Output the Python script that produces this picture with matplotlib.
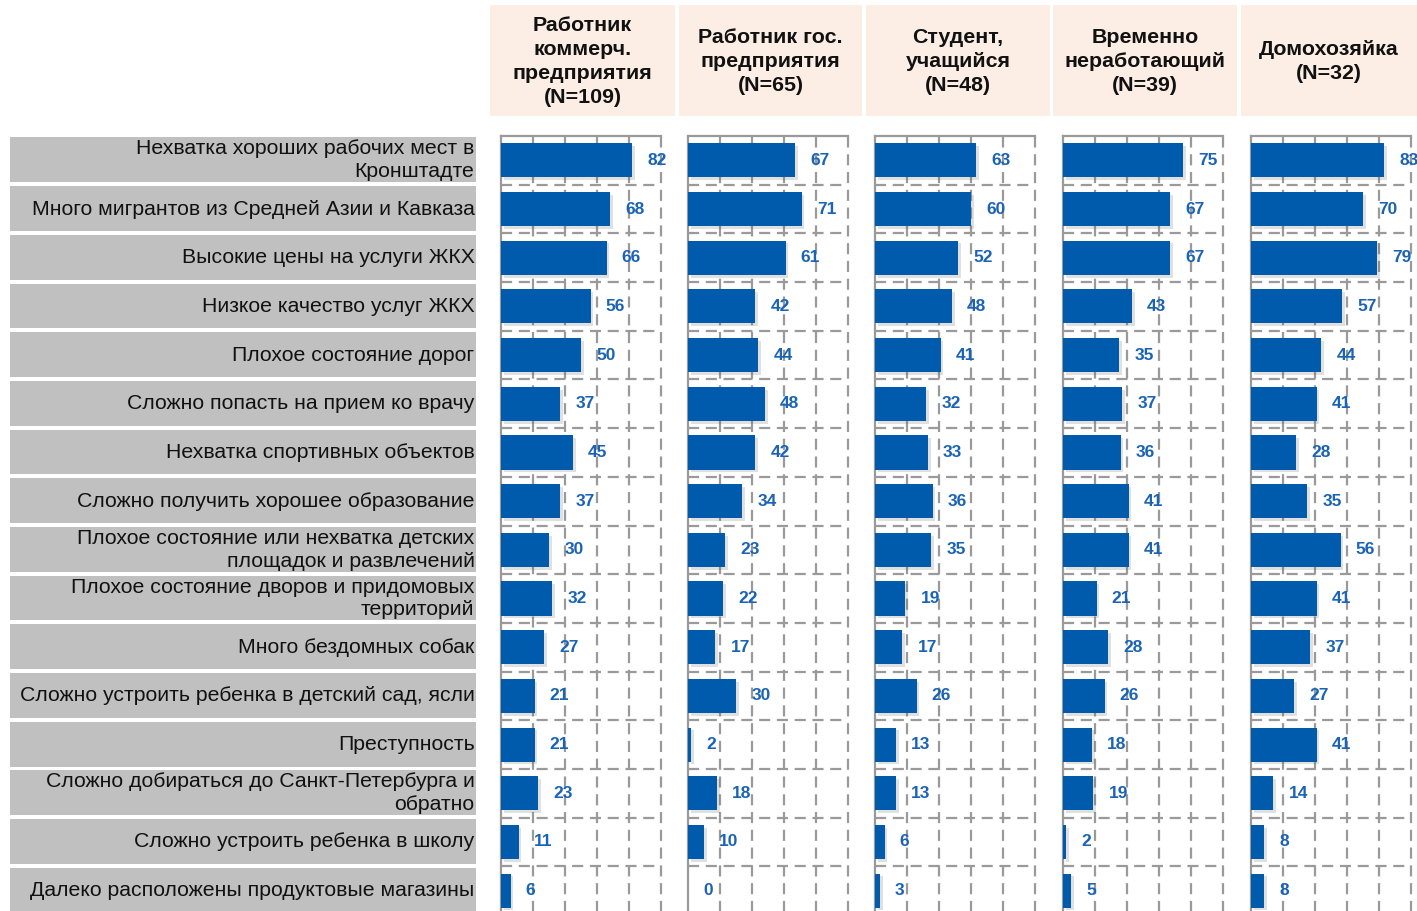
import matplotlib
matplotlib.use("Agg")
import matplotlib.pyplot as plt
import matplotlib.patheffects as pe
from matplotlib.patches import Rectangle

plt.rcParams['font.family'] = ['Liberation Sans', 'DejaVu Sans']

categories = [
    "Нехватка хороших рабочих мест в\nКронштадте",
    "Много мигрантов из Средней Азии и Кавказа",
    "Высокие цены на услуги ЖКХ",
    "Низкое качество услуг ЖКХ",
    "Плохое состояние дорог",
    "Сложно попасть на прием ко врачу",
    "Нехватка спортивных объектов",
    "Сложно получить хорошее образование",
    "Плохое состояние или нехватка детских\nплощадок и развлечений",
    "Плохое состояние дворов и придомовых\nтерриторий",
    "Много бездомных собак",
    "Сложно устроить ребенка в детский сад, ясли",
    "Преступность",
    "Сложно добираться до Санкт-Петербурга и\nобратно",
    "Сложно устроить ребенка в школу",
    "Далеко расположены продуктовые магазины",
]

groups = [
    "Работник\nкоммерч.\nпредприятия\n(N=109)",
    "Работник гос.\nпредприятия\n(N=65)",
    "Студент,\nучащийся\n(N=48)",
    "Временно\nнеработающий\n(N=39)",
    "Домохозяйка\n(N=32)",
]

commercial = [82, 68, 66, 56, 50, 37, 45, 37, 30, 32, 27, 21, 21, 23, 11, 6]
state = [67, 71, 61, 42, 44, 48, 42, 34, 23, 22, 17, 30, 2, 18, 10, 0]
student = [63, 60, 52, 48, 41, 32, 33, 36, 35, 19, 17, 26, 13, 13, 6, 3]
unemployed = [75, 67, 67, 43, 35, 37, 36, 41, 41, 21, 28, 26, 18, 19, 2, 5]
housewife = [83, 70, 79, 57, 44, 41, 28, 35, 56, 41, 37, 27, 41, 14, 8, 8]
series = [commercial, state, student, unemployed, housewife]

W, H = 1417, 911
BAR_COLOR = '#005BAC'
LABEL_COLOR = '#1A63B5'
GRID_COLOR = '#9A9A9A'


def px_rect(x0, y0, x1, y1):
    """pixel box (top-left origin) -> figure rect"""
    return [x0 / W, 1 - y1 / H, (x1 - x0) / W, (y1 - y0) / H]


fig = plt.figure(figsize=(W / 100, H / 100), dpi=100)

n = len(categories)
top, bottom = 136, 915
rows = [i + 0.5 for i in range(n)]

# category labels on grey boxes
lax = fig.add_axes(px_rect(10, top, 476, bottom))
lax.set_xlim(0, 1)
lax.set_ylim(n, 0)
lax.axis('off')
for i, cat in enumerate(categories):
    lax.add_patch(Rectangle((0, i + 0.03), 1, 0.92, facecolor='#C0C0C0',
                            edgecolor='none'))
    lax.text(0.997, i + 0.5, cat, ha='right', va='center', fontsize=15.3,
             color='#111111', linespacing=1.26)

# header boxes
header_x = [(490, 675), (679, 862), (866, 1050), (1053, 1237), (1241, 1417)]
for (x0, x1), g in zip(header_x, groups):
    hax = fig.add_axes(px_rect(x0, 5, x1, 116))
    hax.set_xlim(0, 1)
    hax.set_ylim(0, 1)
    hax.axis('off')
    hax.add_patch(Rectangle((0, 0), 1, 1, facecolor='#FCEEE5', edgecolor='none'))
    hax.text(0.5, 0.49, g, ha='center', va='center', fontsize=15.4,
             fontweight='bold', color='#111111', linespacing=1.33)

# bar panels
panel_x = [501, 688, 875, 1063, 1251]
for x0, vals in zip(panel_x, series):
    ax = fig.add_axes(px_rect(x0, top, x0 + 160, bottom))
    ax.set_xlim(0, 100)
    ax.set_ylim(n, 0)
    ax.set_xticks([])
    ax.set_yticks([])
    for s in ['right', 'bottom']:
        ax.spines[s].set_visible(False)
    for s in ['left', 'top']:
        ax.spines[s].set_color(GRID_COLOR)
        ax.spines[s].set_linewidth(1.6)
    for gx in [20, 40, 60, 80, 100]:
        ax.axvline(gx, color=GRID_COLOR, lw=1.6, ls=(0, (5, 3)), zorder=1,
                   clip_on=False)
    for gy in range(1, n):
        ax.axhline(gy, color=GRID_COLOR, lw=1.6, ls=(0, (5, 3)), zorder=1)
    bars = ax.barh(rows, vals, height=0.7, color=BAR_COLOR, zorder=3)
    for b in bars:
        b.set_path_effects([pe.SimplePatchShadow(offset=(2, -2), alpha=0.2,
                                                 shadow_rgbFace='#666666'),
                            pe.Normal()])
    for y, v in zip(rows, vals):
        ax.text(v + 9.5, y, str(v), ha='left', va='center', fontsize=12.5,
                fontweight='bold', color=LABEL_COLOR, zorder=4, clip_on=False)

fig.savefig('out.png', dpi=100)
